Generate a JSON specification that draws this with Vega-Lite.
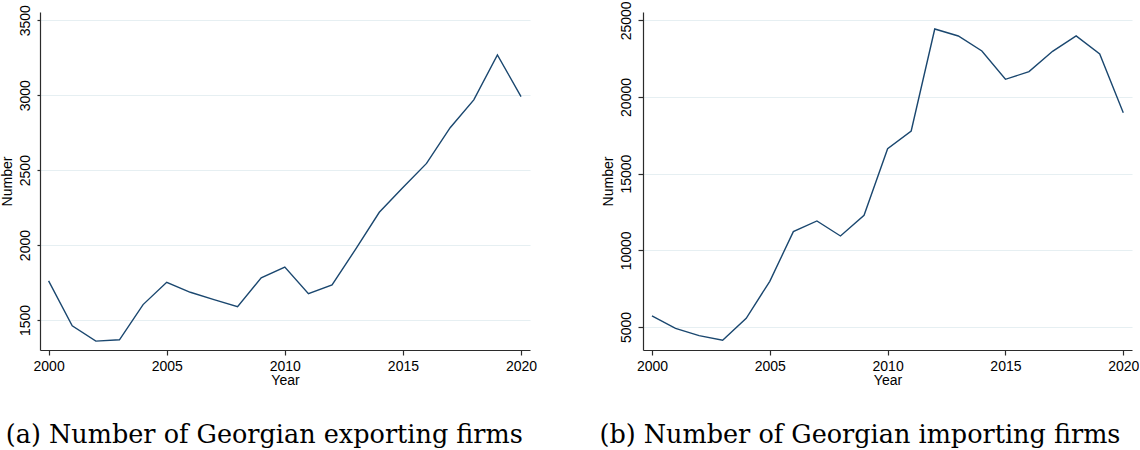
{
  "$schema": "https://vega.github.io/schema/vega-lite/v6.json",
  "padding": 0,
  "background": "white",
  "datasets": {
    "exporting": [
      {"year": 2000, "firms": 1761}, {"year": 2001, "firms": 1462}, {"year": 2002, "firms": 1359},
      {"year": 2003, "firms": 1368}, {"year": 2004, "firms": 1603}, {"year": 2005, "firms": 1752},
      {"year": 2006, "firms": 1685}, {"year": 2007, "firms": 1636}, {"year": 2008, "firms": 1589},
      {"year": 2009, "firms": 1781}, {"year": 2010, "firms": 1853}, {"year": 2011, "firms": 1676},
      {"year": 2012, "firms": 1734}, {"year": 2013, "firms": 1973}, {"year": 2014, "firms": 2219},
      {"year": 2015, "firms": 2384}, {"year": 2016, "firms": 2545}, {"year": 2017, "firms": 2783},
      {"year": 2018, "firms": 2969}, {"year": 2019, "firms": 3268}, {"year": 2020, "firms": 2991}
    ],
    "importing": [
      {"year": 2000, "firms": 5717}, {"year": 2001, "firms": 4913}, {"year": 2002, "firms": 4435},
      {"year": 2003, "firms": 4130}, {"year": 2004, "firms": 5565}, {"year": 2005, "firms": 7978},
      {"year": 2006, "firms": 11217}, {"year": 2007, "firms": 11913}, {"year": 2008, "firms": 10935},
      {"year": 2009, "firms": 12283}, {"year": 2010, "firms": 16630}, {"year": 2011, "firms": 17783},
      {"year": 2012, "firms": 24435}, {"year": 2013, "firms": 23978}, {"year": 2014, "firms": 23000},
      {"year": 2015, "firms": 21152}, {"year": 2016, "firms": 21652}, {"year": 2017, "firms": 22978},
      {"year": 2018, "firms": 23978}, {"year": 2019, "firms": 22804}, {"year": 2020, "firms": 18978}
    ]
  },
  "config": {
    "view": {"stroke": null},
    "font": "Liberation Sans",
    "axis": {
      "labelFont": "Liberation Sans",
      "labelFontSize": 14,
      "labelColor": "#000000",
      "titleFont": "Liberation Sans",
      "titleFontSize": 14,
      "titleFontWeight": "normal",
      "titleColor": "#000000",
      "domainColor": "#2b2b2b",
      "domainWidth": 1.2,
      "tickColor": "#2b2b2b",
      "tickWidth": 1.2,
      "gridColor": "#e6eff2",
      "gridWidth": 1.2
    },
    "axisX": {"grid": false, "tickSize": 5, "labelPadding": 4, "titlePadding": 0},
    "axisY": {"labelAngle": 270, "labelAlign": "center", "labelBaseline": "bottom", "labelPadding": 5, "titlePadding": 4},
    "title": {
      "font": "DejaVu Serif",
      "fontSize": 25.5,
      "fontWeight": "normal",
      "color": "#000000",
      "orient": "bottom",
      "anchor": "middle",
      "frame": "bounds",
      "offset": 36
    },
    "line": {"color": "#1a476f", "strokeWidth": 1.4}
  },
  "bounds": "flush",
  "spacing": 113,
  "hconcat": [
    {
      "title": {"text": "(a) Number of Georgian exporting firms", "dx": -4},
      "width": 490,
      "height": 338,
      "data": {"name": "exporting"},
      "mark": {"type": "line"},
      "encoding": {
        "x": {
          "field": "year", "type": "quantitative", "title": "Year",
          "scale": {"domain": [1999.636, 2020.38], "nice": false, "zero": false},
          "axis": {"values": [2000, 2005, 2010, 2015, 2020], "format": "d"}
        },
        "y": {
          "field": "firms", "type": "quantitative", "title": "Number",
          "scale": {"domain": [1300, 3555], "nice": false, "zero": false},
          "axis": {"values": [1500, 2000, 2500, 3000, 3500], "format": "d", "tickSize": 3}
        }
      }
    },
    {
      "title": {"text": "(b) Number of Georgian importing firms", "dx": -10},
      "width": 489,
      "height": 338,
      "data": {"name": "importing"},
      "mark": {"type": "line"},
      "encoding": {
        "x": {
          "field": "year", "type": "quantitative", "title": "Year",
          "scale": {"domain": [1999.62, 2020.37], "nice": false, "zero": false},
          "axis": {"values": [2000, 2005, 2010, 2015, 2020], "format": "d"}
        },
        "y": {
          "field": "firms", "type": "quantitative", "title": "Number",
          "scale": {"domain": [3498, 25542], "nice": false, "zero": false},
          "axis": {"values": [5000, 10000, 15000, 20000, 25000], "format": "d", "tickSize": 5}
        }
      }
    }
  ]
}
